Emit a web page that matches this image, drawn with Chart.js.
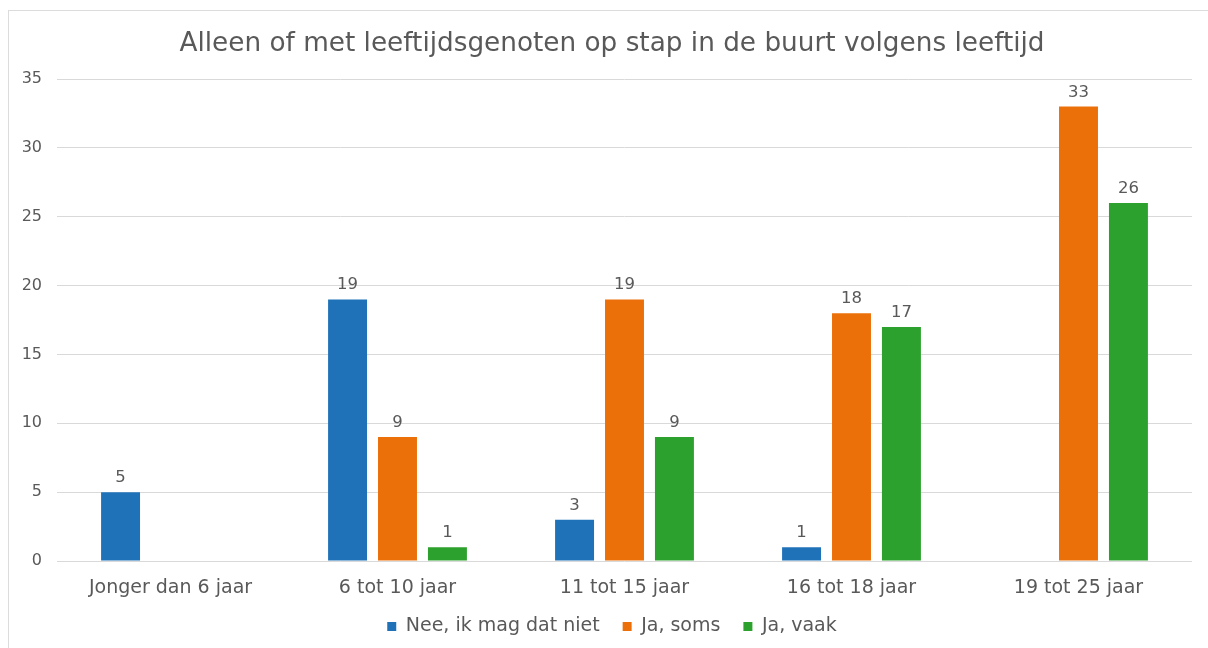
<!DOCTYPE html>
<html>
<head>
<meta charset="utf-8">
<script src="https://cdn.jsdelivr.net/npm/chart.js@4.4.0/dist/chart.umd.min.js"></script>
<style>
html,body{margin:0;padding:0;background:#fff;}
#frame{position:absolute;left:8px;top:10px;width:1220px;height:660px;border:1px solid #dcdcdc;box-sizing:border-box;}
#wrap{position:absolute;left:0;top:0;width:1208px;height:648px;}
</style>
</head>
<body>
<div id="frame"></div>
<div id="wrap"><canvas id="c" width="1208" height="648"></canvas></div>
<script>
const categories = ["Jonger dan 6 jaar", "6 tot 10 jaar", "11 tot 15 jaar", "16 tot 18 jaar", "19 tot 25 jaar"];
const seriesNames = ["Nee, ik mag dat niet", "Ja, soms", "Ja, vaak"];
const neeValues = [5, 19, 3, 1, null];
const somsValues = [null, 9, 19, 18, 33];
const vaakValues = [null, 1, 9, 17, 26];
const yTicks = [0, 5, 10, 15, 20, 25, 30, 35];
const titleText = "Alleen of met leeftijdsgenoten op stap in de buurt volgens leeftijd";

const FONT = "'DejaVu Sans', Verdana, sans-serif";
const TXT = "#595959";

const labelPlugin = {
  id: 'valLabels',
  afterDatasetsDraw(chart) {
    const ctx = chart.ctx;
    ctx.save();
    ctx.font = "16.5px " + FONT;
    ctx.fillStyle = TXT;
    ctx.textAlign = 'center';
    ctx.textBaseline = 'bottom';
    chart.data.datasets.forEach((ds, i) => {
      const meta = chart.getDatasetMeta(i);
      meta.data.forEach((bar, j) => {
        const v = ds.data[j];
        if (v === null || v === undefined) return;
        ctx.fillText(String(v), bar.x, bar.y - 6);
      });
    });
    ctx.restore();
  }
};

const noClip = () => undefined;

new Chart(document.getElementById('c'), {
  type: 'bar',
  data: {
    labels: categories,
    datasets: [
      { label: seriesNames[0], data: neeValues, backgroundColor: '#1f72b8' },
      { label: seriesNames[1], data: somsValues, backgroundColor: '#ec7009' },
      { label: seriesNames[2], data: vaakValues, backgroundColor: '#2ca12d' }
    ]
  },
  options: {
    responsive: false,
    animation: false,
    devicePixelRatio: 1,
    datasets: { bar: { categoryPercentage: 0.66, barPercentage: 0.78 } },
    layout: { padding: { left: 32, right: 16, top: 20, bottom: 2 } },
    plugins: {
      title: {
        display: true, text: titleText, color: TXT,
        font: { family: FONT, size: 26.3, weight: 'normal' },
        padding: { top: 8, bottom: 19.5 }
      },
      legend: {
        position: 'bottom',
        labels: {
          color: TXT, font: { family: FONT, size: 19 },
          boxWidth: 9, boxHeight: 9, padding: 23
        }
      },
      tooltip: { enabled: false }
    },
    scales: {
      x: {
        afterFit: s => { s.height = 33; s._computeLabelArea = noClip; },
        grid: { display: false, drawTicks: false },
        border: { display: false },
        ticks: { color: TXT, font: { family: FONT, size: 19 }, padding: 15.5, maxRotation: 0, autoSkip: false }
      },
      y: {
        min: 0, max: 35,
        afterFit: s => { s.width = 25; s._computeLabelArea = noClip; },
        grid: { color: '#d9d9d9', drawTicks: false },
        border: { display: false },
        ticks: { stepSize: 5, color: TXT, font: { family: FONT, size: 16 }, padding: 15,
          callback: v => yTicks.includes(v) ? v : '' }
      }
    }
  },
  plugins: [labelPlugin]
});
</script>
</body>
</html>
